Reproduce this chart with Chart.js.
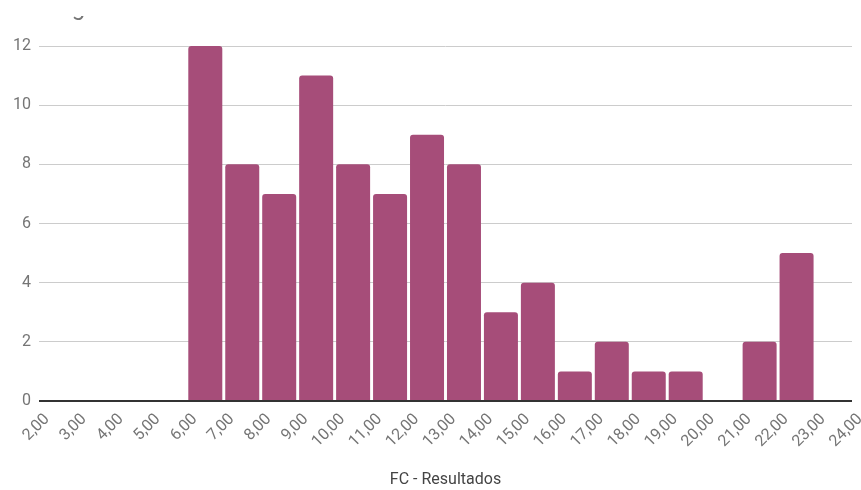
<!DOCTYPE html>
<html>
<head>
<meta charset="utf-8">
<script src="https://cdn.jsdelivr.net/npm/chart.js@4/dist/chart.umd.min.js"></script>
<style>
  html, body { margin: 0; padding: 0; background: #ffffff; }
  #wrap { position: relative; width: 861px; height: 490px; overflow: hidden; }
  #c { position: absolute; left: 0; top: 0; }
  #titleClip { position: absolute; left: 0; top: 16px; width: 861px; height: 10px; overflow: hidden; }
  #titleText { position: absolute; left: 15px; top: -24px; font-family: Roboto, sans-serif; font-size: 24px; line-height: 30px; color: #757575; white-space: nowrap; }
</style>
</head>
<body>
<div id="wrap">
  <canvas id="c" width="861" height="490"></canvas>
  <div id="titleClip"><div id="titleText">Histograma de FC - Resultados</div></div>
</div>
<script>
// Histogram bins (start of each bin) and counts
const binStarts = [2, 3, 4, 5, 6, 7, 8, 9, 10, 11, 12, 13, 14, 15, 16, 17, 18, 19, 20, 21, 22, 23];
const counts    = [0, 0, 0, 0, 12, 8, 7, 11, 8, 7, 9, 8, 3, 4, 1, 2, 1, 1, 0, 2, 5, 0];
const xMin = 2, xMax = 24;
const yMin = 0, yMax = 12, yStep = 2;
const xTitle = 'FC - Resultados';

const barData = binStarts.map((s, i) => ({ x: s + 0.5, y: counts[i] }));

new Chart(document.getElementById('c'), {
  type: 'bar',
  data: {
    datasets: [{
      data: barData,
      backgroundColor: '#a64d79',
      borderWidth: 0,
      borderRadius: 3,
      categoryPercentage: 1.0,
      barPercentage: 0.92
    }]
  },
  options: {
    responsive: false,
    animation: false,
    devicePixelRatio: 1,
    layout: { padding: { top: 46, right: 9, left: 0, bottom: 0 } },
    plugins: { legend: { display: false }, tooltip: { enabled: false }, title: { display: false } },
    scales: {
      x: {
        type: 'linear',
        min: xMin, max: xMax,
        offset: false,
        grid: { display: false, drawTicks: false },
        border: { display: false },
        ticks: {
          stepSize: 1,
          autoSkip: false,
          minRotation: 45, maxRotation: 45,
          labelOffset: 8,
          padding: 9,
          color: '#757575',
          font: { family: 'Roboto', size: 16 },
          callback: (v) => Number(v).toFixed(2).replace('.', ',')
        },
        title: {
          display: true,
          text: xTitle,
          color: '#444444',
          font: { family: 'Roboto', size: 16 },
          padding: { top: 0, bottom: 0 }
        },
        afterFit: (s) => { s.height = 89; s.paddingLeft = 0; s.paddingRight = 0; }
      },
      y: {
        min: yMin, max: yMax,
        grid: {
          drawTicks: false,
          color: (ctx) => ctx.tick && ctx.tick.value === 0 ? '#333333' : '#cccccc',
          lineWidth: (ctx) => ctx.tick && ctx.tick.value === 0 ? 2 : 1
        },
        border: { display: false },
        ticks: {
          stepSize: yStep,
          padding: 8,
          color: '#757575',
          font: { family: 'Roboto', size: 16 }
        },
        afterFit: (s) => { s.width = 39; s.paddingTop = 0; s.paddingBottom = 0; }
      }
    }
  }
});
</script>
</body>
</html>
